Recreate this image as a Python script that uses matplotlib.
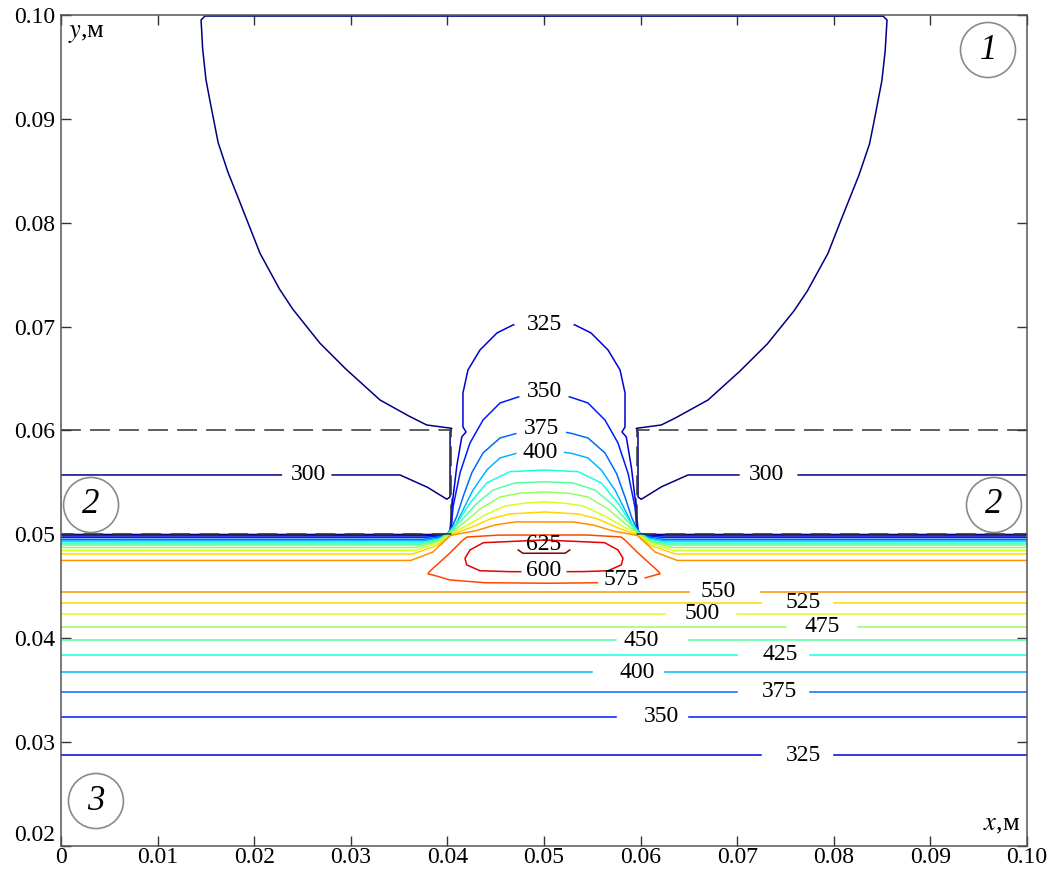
import numpy as np
import matplotlib.pyplot as plt
from matplotlib import colors
from matplotlib.patches import Ellipse

plt.rcParams['font.family'] = 'Liberation Serif'
plt.rcParams['mathtext.fontset'] = 'stix'

# ---- isotherms, T in K, coordinates in m ----
# straight isotherms in the lower body (region 3)
low_levels = [325, 350, 375, 400, 425, 450, 475, 500, 525, 550]
low_y = [0.02876, 0.03242, 0.03483, 0.03675, 0.03839, 0.03983, 0.04109, 0.04234, 0.04340, 0.04446]
low_label_x = [0.0769, 0.0622, 0.0744, 0.0596, 0.0744, 0.0601, 0.0788, 0.0664, 0.0768, 0.0680]

# T = 300 K: layer 2 level, wall of the plate and the dome in region 1 (left half)
top300 = [(0, 0.05572), (0.03509, 0.05572), (0.03789, 0.05456), (0.03993, 0.05338),
          (0.04027, 0.05360), (0.04027, 0.05986), (0.04045, 0.06021), (0.03786, 0.06053),
          (0.03613, 0.06133), (0.03302, 0.06294), (0.02958, 0.06583), (0.02681, 0.06840),
          (0.02405, 0.07160), (0.02267, 0.07353), (0.02060, 0.07706), (0.01871, 0.08155),
          (0.01732, 0.08476), (0.01628, 0.08765), (0.01560, 0.09085), (0.01501, 0.09374),
          (0.01467, 0.09663), (0.01449, 0.09952), (0.01491, 0.0999), (0.05, 0.0999)]
low300 = [(0, 0.04999), (0.0400, 0.04999), (0.04040, 0.0503), (0.0405, 0.0534)]

# isotherms running under the layer 2 and over the plate (left halves)
dome325 = [(0, 0.04985), (0.0375, 0.04985), (0.0392, 0.04994), (0.04006, 0.05008),
           (0.04027, 0.05042), (0.04055, 0.05331), (0.04096, 0.05652), (0.04148, 0.05938),
           (0.04193, 0.05986), (0.04161, 0.06034), (0.04161, 0.06361), (0.04213, 0.06583),
           (0.04337, 0.06775), (0.04513, 0.06939), (0.04679, 0.07016), (0.05, 0.07064)]
dome350 = [(0, 0.04970), (0.0375, 0.04970), (0.0392, 0.04985), (0.04006, 0.05008),
           (0.04037, 0.05042), (0.04058, 0.05264), (0.04130, 0.05591), (0.04234, 0.05880),
           (0.04369, 0.06101), (0.04545, 0.06265), (0.04731, 0.06323), (0.05, 0.06371)]
dome375 = [(0, 0.04951), (0.0375, 0.04951), (0.0392, 0.04975), (0.04006, 0.05008),
           (0.04027, 0.05026), (0.04096, 0.05170), (0.04161, 0.05360), (0.04251, 0.05591),
           (0.04369, 0.05784), (0.04545, 0.05928), (0.04731, 0.05976), (0.05, 0.06015)]
dome400 = [(0, 0.04937), (0.0375, 0.04937), (0.0392, 0.04965), (0.04006, 0.05008),
           (0.04058, 0.05042), (0.04161, 0.05235), (0.04265, 0.05427), (0.04407, 0.05620),
           (0.04545, 0.05736), (0.04717, 0.05781), (0.05, 0.05813)]
dome425 = [(0, 0.04917), (0.0372, 0.04917), (0.0392, 0.04955), (0.04006, 0.05008),
           (0.04110, 0.05122), (0.04234, 0.05302), (0.04407, 0.05495), (0.04648, 0.05604),
           (0.05, 0.05620)]
dome450 = [(0, 0.04898), (0.0370, 0.04898), (0.0390, 0.04940), (0.04010, 0.05005),
           (0.04151, 0.05139), (0.04286, 0.05283), (0.04472, 0.05427), (0.04700, 0.05495),
           (0.05, 0.05507)]
dome475 = [(0, 0.04874), (0.0368, 0.04874), (0.0390, 0.04930), (0.04015, 0.05000),
           (0.04182, 0.05120), (0.04337, 0.05244), (0.04545, 0.05360), (0.04752, 0.05398),
           (0.05, 0.05408)]
dome500 = [(0, 0.04845), (0.0366, 0.04845), (0.0390, 0.04915), (0.04020, 0.04995),
           (0.04213, 0.05091), (0.04389, 0.05187), (0.04596, 0.05273), (0.04803, 0.05302),
           (0.05, 0.05312)]
dome525 = [(0, 0.04811), (0.0364, 0.04811), (0.0390, 0.04895), (0.04025, 0.04990),
           (0.04234, 0.05062), (0.04441, 0.05148), (0.04648, 0.05197), (0.05, 0.05216)]
dome550 = [(0, 0.04749), (0.0362, 0.04749), (0.0385, 0.04830), (0.0398, 0.04945),
           (0.04035, 0.04990), (0.04286, 0.05033), (0.04493, 0.05091), (0.04700, 0.05120),
           (0.05, 0.05120)]

# closed isotherms around the hot spot (left halves, top -> bottom)
loop575 = [(0.05, 0.04994), (0.04545, 0.04994), (0.04203, 0.04975), (0.04161, 0.04946),
           (0.04027, 0.04821), (0.03889, 0.04706), (0.03813, 0.04641), (0.03799, 0.04619),
           (0.03851, 0.04609), (0.04027, 0.04561), (0.04369, 0.04535), (0.05, 0.04529)]
loop600 = [(0.05, 0.04946), (0.04372, 0.04920), (0.04234, 0.04850), (0.04182, 0.04770),
           (0.04200, 0.04706), (0.04337, 0.04650), (0.04614, 0.04641), (0.05, 0.04641)]
arc625 = [(0.04733, 0.04850), (0.04782, 0.04818), (0.05, 0.04818)]

# labels on the curved isotherms: (text, x, y, half gap width, line)
curve_labels = [('300', 0.02557, 0.05572, 0.0024, top300),
                ('300', 0.07308, 0.05572, 0.0024, top300),
                ('325', 0.05, 0.07016, 0.0031, dome325),
                ('350', 0.05, 0.06380, 0.0026, dome350),
                ('375', 0.04969, 0.06024, 0.0026, dome375),
                ('400', 0.04959, 0.05793, 0.0025, dome400),
                ('575', 0.05804, 0.04568, 0.0024, loop575),
                ('600', 0.05, 0.04650, 0.0024, loop600),
                ('625', 0.05, 0.04900, 0.0, arc625)]

levels_curved = [(300, top300), (325, dome325), (350, dome350), (375, dome375),
                 (400, dome400), (425, dome425), (450, dome450), (475, dome475),
                 (500, dome500), (525, dome525), (550, dome550), (575, loop575),
                 (600, loop600), (625, arc625)]

cmap = plt.get_cmap('jet')
norm = colors.Normalize(vmin=300, vmax=630)


def mirror(pts):
    left = np.array(pts, dtype=float)
    right = left[::-1].copy()
    right[:, 0] = 0.1 - right[:, 0]
    return np.vstack([left, right[1:]])


def with_gaps(xy, gaps):
    # split the line where a label sits on it
    xy = np.asarray(xy, dtype=float)
    t = np.linspace(0, 1, 40, endpoint=False)[:, None]
    parts = [a + (b - a) * t for a, b in zip(xy[:-1], xy[1:])]
    d = np.vstack(parts + [xy[-1:]])
    for gx, gy, hw, hh in gaps:
        m = (np.abs(d[:, 0] - gx) < hw) & (np.abs(d[:, 1] - gy) < hh)
        d[m] = np.nan
    return d


fig = plt.figure(figsize=(10.52, 8.71), dpi=100)
ax = fig.add_axes([61 / 1052, 1 - 846 / 871, 966 / 1052, 831 / 871])
lw = 1.1

# straight isotherms of region 3
for lev, y, lx in zip(low_levels, low_y, low_label_x):
    d = with_gaps([(0, y), (0.1, y)], [(lx, y, 0.0024, 0.0006)])
    ax.plot(d[:, 0], d[:, 1], color=cmap(norm(lev)), lw=lw)
    ax.text(lx, y, str(lev), fontsize=17, ha='center', va='center')

# 300 K line along the top of region 3, both sides of the plate
seg = np.array(low300)
seg_r = seg.copy()
seg_r[:, 0] = 0.1 - seg_r[:, 0]
for s in (seg, seg_r):
    ax.plot(s[:, 0], s[:, 1], color=cmap(norm(300)), lw=lw)

for lev, half in levels_curved:
    full = mirror(half)
    gaps = [(gx, gy, hw, 0.0008) for _, gx, gy, hw, p in curve_labels if p is half]
    d = with_gaps(full, gaps)
    ax.plot(d[:, 0], d[:, 1], color=cmap(norm(lev)), lw=lw)

for txt, gx, gy, hw, p in curve_labels:
    ax.text(gx, gy, txt, fontsize=17, ha='center', va='center')

# boundaries of layer 2
dash = (0, (13, 6))
for xs in ([0, 0.0404, 0.0404, 0], [0.1, 0.0596, 0.0596, 0.1]):
    ax.plot(xs, [0.06, 0.06, 0.05, 0.05], color='#333333', lw=1.1, ls=dash)

# region numbers
for num, cx, cy in [('1', 0.09596, 0.09663), ('2', 0.00311, 0.05283),
                    ('2', 0.09658, 0.05283), ('3', 0.00362, 0.02433)]:
    ax.add_patch(Ellipse((cx, cy), 0.00569, 0.00530, fill=False,
                         edgecolor='#8a8a8a', lw=1.2))
    ax.text(cx, cy, num, fontsize=25, fontstyle='italic', ha='center', va='center')

ax.text(0.007, 0.99, '$y$,м', transform=ax.transAxes, fontsize=19,
        ha='left', va='top')
ax.text(0.993, 0.012, '$x$,м', transform=ax.transAxes, fontsize=19,
        ha='right', va='bottom')

ax.set_xlim(0, 0.1)
ax.set_ylim(0.02, 0.1)
ax.set_xticks(np.arange(0, 0.101, 0.01))
ax.set_xticklabels(['0'] + ['%.2f' % v for v in np.arange(0.01, 0.101, 0.01)])
ax.set_yticks(np.arange(0.02, 0.101, 0.01))
ax.set_yticklabels(['%.2f' % v for v in np.arange(0.02, 0.101, 0.01)])
ax.tick_params(direction='in', length=7, width=1, top=True, right=True,
               labelsize=17, pad=4, color='#333333')
ax.tick_params(axis='x', pad=1)
ax.get_yticklabels()[0].set_verticalalignment('bottom')
for s in ax.spines.values():
    s.set_color('#555555')
    s.set_linewidth(1.1)

fig.savefig('out.png', dpi=100)
